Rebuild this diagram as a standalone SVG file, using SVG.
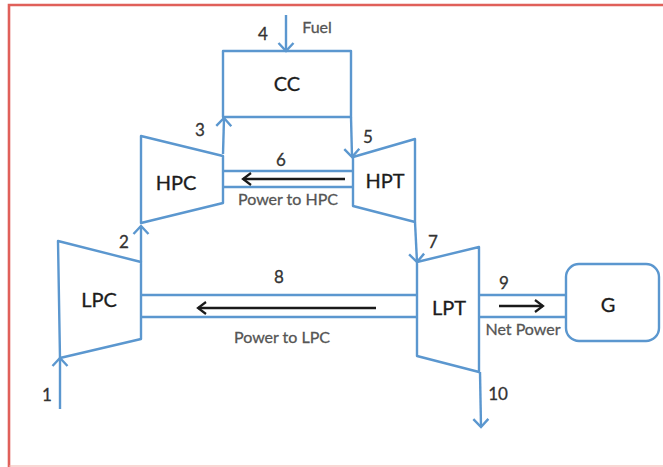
<svg xmlns="http://www.w3.org/2000/svg" width="663" height="467" viewBox="0 0 663 467">
<defs>
<marker id="b" markerUnits="userSpaceOnUse" markerWidth="20" markerHeight="20" refX="15" refY="9" orient="auto"><path d="M7 1.5L15 9L7 16.5" fill="none" stroke="#5b97cf" stroke-width="2.4"/></marker>
<marker id="k" markerUnits="userSpaceOnUse" markerWidth="20" markerHeight="18" refX="15" refY="8" orient="auto"><path d="M7 2L15 8L7 14" fill="none" stroke="#1a1a1a" stroke-width="2.2"/></marker>
</defs>
<style>
.s{fill:#fff;stroke:#5b97cf;stroke-width:2.4;stroke-linejoin:round}
.c{fill:none;stroke:#5b97cf;stroke-width:2.4}
.a{marker-end:url(#b)}
.p{fill:none;stroke:#1a1a1a;stroke-width:2.4;marker-end:url(#k)}
text{font-family:Lato,"Liberation Sans",sans-serif;fill:#333;text-anchor:middle;font-weight:400;stroke:#333;stroke-width:.3}
.n{font-size:17px}
.l{font-size:16px;fill:#555;stroke:#555}
.t{font-size:20px;fill:#1c1c1c;stroke:#1c1c1c}
</style>
<rect width="663" height="467" fill="#fff"/>
<path d="M9 467V5H663" fill="none" stroke="#e0605a" stroke-width="2.6"/>
<path d="M9 466H663" fill="none" stroke="#f4b0aa" stroke-width="1.2"/>
<g id="cc"><rect class="s" x="223" y="51" width="128" height="66"/><text class="t" x="287" y="91">CC</text></g>
<g id="hpc"><path class="s" d="M141 136L223 156V203L141 223Z"/><text class="t" x="176" y="190">HPC</text></g>
<g id="hpt"><path class="s" d="M353 157L415 139V222L353 206Z"/><text class="t" x="385" y="188">HPT</text></g>
<g id="lpc"><path class="s" d="M58 241L141 262V339L60 358Z"/><text class="t" x="99" y="307">LPC</text></g>
<g id="lpt"><path class="s" d="M417 262L479 247V372L417 356Z"/><text class="t" x="449" y="315">LPT</text></g>
<g id="g"><rect class="s" x="566" y="264" width="93" height="77" rx="13"/><text class="t" x="608" y="312">G</text></g>
<g id="connectors">
<path class="c" d="M223 171H353M223 187H353M141 295H417M141 317H417M479 295H566M479 317H566"/>
<path class="c a" d="M286 15V51"/>
<path class="c a" d="M223 154L224 118"/>
<path class="c a" d="M351 117L352 157"/>
<path class="c a" d="M60 409V358"/>
<path class="c a" d="M141 262V226"/>
<path class="c a" d="M415 222L417 262"/>
<path class="c a" d="M480 372L481 427"/>
<path class="p" d="M345 179H243"/>
<path class="p" d="M376 308H198"/>
<path class="p" d="M499 306H543"/>
</g>
<g id="labels">
<text class="n" x="263" y="40">4</text>
<text class="l" x="317" y="33">Fuel</text>
<text class="n" x="200" y="136">3</text>
<text class="n" x="368" y="143">5</text>
<text class="n" x="281" y="166">6</text>
<text class="l" x="288" y="205">Power to HPC</text>
<text class="n" x="124" y="248">2</text>
<text class="n" x="433" y="248">7</text>
<text class="n" x="279" y="283">8</text>
<text class="n" x="504" y="289">9</text>
<text class="l" x="523" y="335">Net Power</text>
<text class="l" x="282" y="343">Power to LPC</text>
<text class="n" x="47" y="401">1</text>
<text class="n" x="498" y="400">10</text>
</g>
</svg>
